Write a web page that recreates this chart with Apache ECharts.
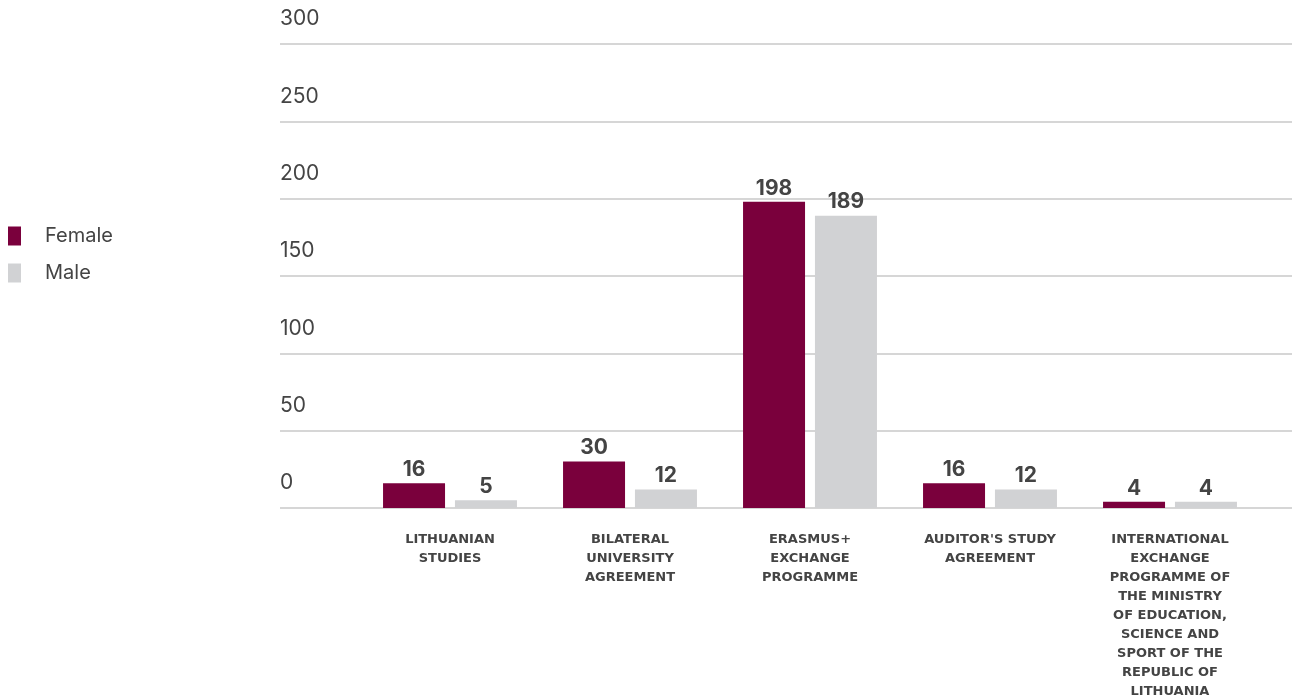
<!DOCTYPE html>
<html>
<head>
<meta charset="utf-8">
<script src="https://cdn.jsdelivr.net/npm/echarts@6/dist/echarts.min.js"></script>
<style>
  html, body { margin: 0; padding: 0; background: #fff; }
  #chart { width: 1292px; height: 700px; }
</style>
</head>
<body>
<div id="chart"></div>
<script>
  // data
  var categories = [
    'LITHUANIAN\nSTUDIES',
    'BILATERAL\nUNIVERSITY\nAGREEMENT',
    'ERASMUS+\nEXCHANGE\nPROGRAMME',
    "AUDITOR'S STUDY\nAGREEMENT",
    'INTERNATIONAL\nEXCHANGE\nPROGRAMME OF\nTHE MINISTRY\nOF EDUCATION,\nSCIENCE AND\nSPORT OF THE\nREPUBLIC OF\nLITHUANIA'
  ]
  var female = [16, 30, 198, 16, 4]
  var male = [5, 12, 189, 12, 4]
  var yMax = 300
  var yStep = 50

  var font = 'Inter, Roboto, sans-serif'

  var myChart = echarts.init(document.getElementById('chart'))

  var barLabel = {
    show: true,
    position: 'top',
    distance: 3,
    color: '#444',
    fontFamily: font,
    fontWeight: 'bold',
    fontSize: 21
  }

  var option = {
    animation: false,
    legend: {
      orient: 'vertical',
      left: 3,
      top: 221,
      icon: 'rect',
      itemWidth: 13,
      itemHeight: 19,
      itemGap: 17,
      data: ['Female', 'Male'],
      textStyle: {
        color: '#444',
        fontFamily: font,
        fontSize: 20,
        padding: [0, 0, 0, 19]
      }
    },
    // two grids: one for the full-width lines, one for the bars
    grid: [
      { left: 280, right: 0, top: 44, height: 464, outerBoundsMode: 'none' },
      { left: 360, width: 900, top: 44, height: 464, outerBoundsMode: 'none' }
    ],
    xAxis: [
      { type: 'value', gridIndex: 0, show: false },
      {
        type: 'category',
        gridIndex: 1,
        data: categories,
        axisLine: { show: false },
        axisTick: { show: false },
        axisLabel: {
          interval: 0,
          margin: 22,
          color: '#444',
          fontFamily: '"DejaVu Sans", sans-serif',
          fontWeight: 'bold',
          fontSize: 13,
          lineHeight: 19
        }
      }
    ],
    yAxis: [
      {
        type: 'value',
        gridIndex: 0,
        min: 0,
        max: yMax,
        interval: yStep,
        axisLine: { show: false },
        axisTick: { show: false },
        splitLine: { lineStyle: { color: '#d6d6d6', width: 2 } },
        axisLabel: {
          inside: true,
          margin: 0,
          verticalAlign: 'bottom',
          padding: [0, 0, 14, 0],
          lineHeight: 22,
          color: '#444',
          fontFamily: font,
          fontSize: 21
        }
      },
      { type: 'value', gridIndex: 1, min: 0, max: yMax, show: false }
    ],
    series: [
      {
        name: 'Female',
        type: 'bar',
        xAxisIndex: 1,
        yAxisIndex: 1,
        data: female,
        barWidth: 62,
        barGap: '16%',
        itemStyle: { color: '#7a003c' },
        label: barLabel
      },
      {
        name: 'Male',
        type: 'bar',
        xAxisIndex: 1,
        yAxisIndex: 1,
        data: male,
        barWidth: 62,
        itemStyle: { color: '#d1d2d4' },
        label: barLabel
      }
    ]
  }

  myChart.setOption(option)
</script>
</body>
</html>
